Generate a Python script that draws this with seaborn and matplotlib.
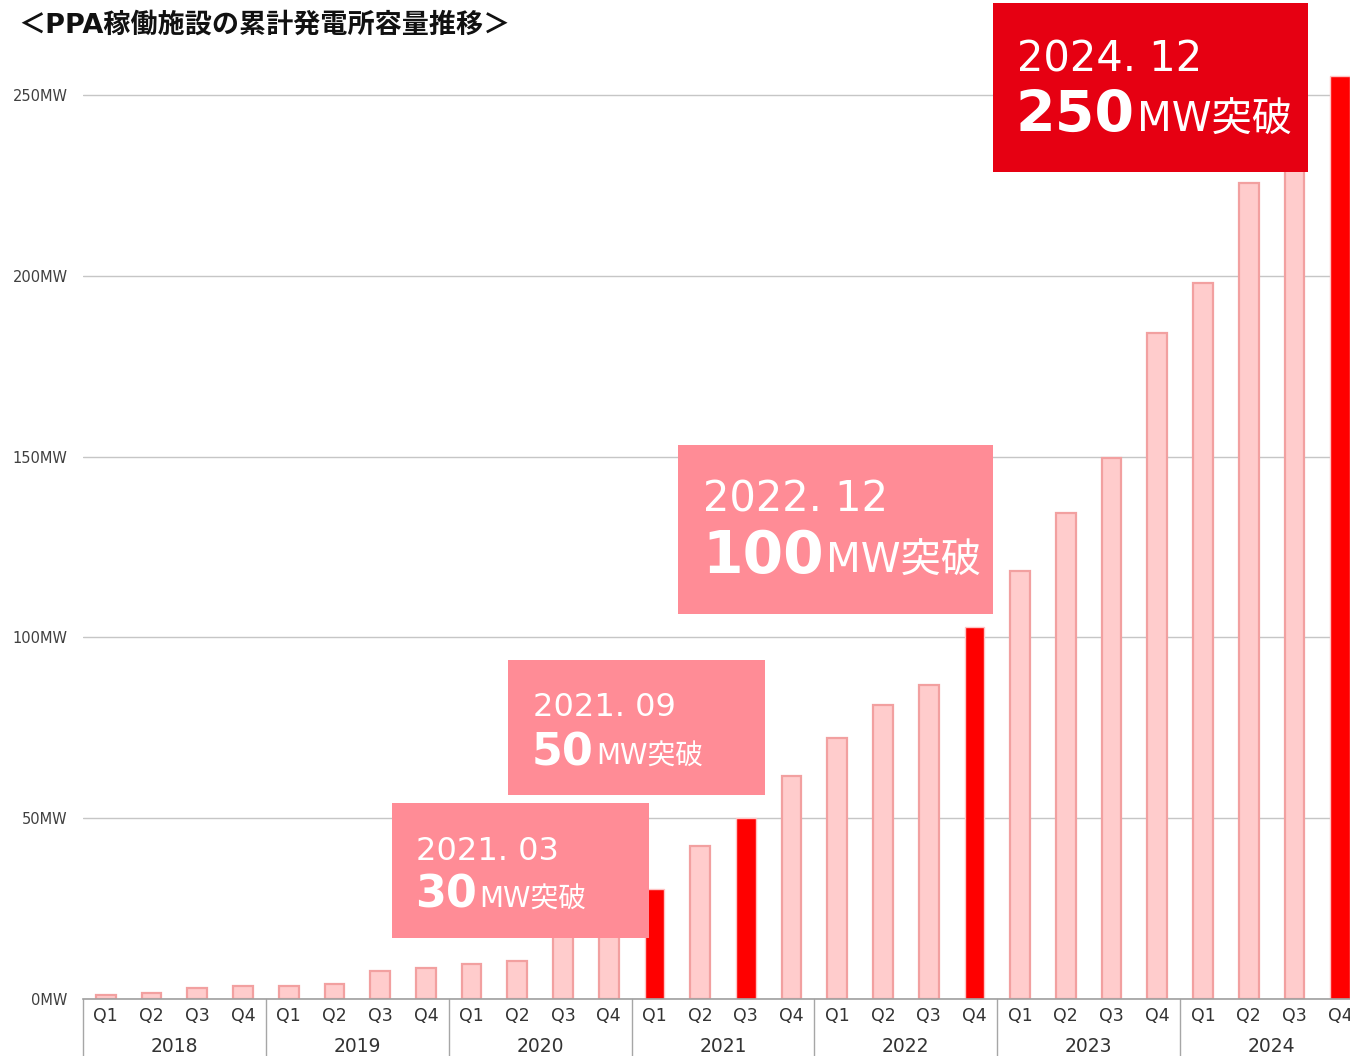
import pandas as pd
import seaborn as sns
import matplotlib.pyplot as plt
from matplotlib.patches import Rectangle

# Données (MW cumulés par trimestre)
years = ['2018', '2019', '2020', '2021', '2022', '2023', '2024']
quarters = ['Q1', 'Q2', 'Q3', 'Q4']
capacity = [1.1, 1.7, 3.0, 3.6,
            3.6, 4.1, 7.7, 8.6,
            9.7, 10.5, 20.0, 25.0,
            30.4, 42.3, 50.1, 61.7,
            72.2, 81.3, 86.8, 102.9,
            118.4, 134.4, 149.6, 184.2,
            198.0, 225.7, 236.0, 255.3]
milestones = ['2021Q1', '2021Q3', '2022Q4', '2024Q4']
yticks = [0, 50, 100, 150, 200, 250]

# Encadrés des jalons
box_dates = ['2021. 03', '2021. 09', '2022. 12', '2024. 12']
box_values = ['30', '50', '100', '250']
box_unit = 'MW突破'

title = '＜PPA稼働施設の累計発電所容量推移＞'

periods = [y + q for y in years for q in quarters]
df = pd.DataFrame({'period': periods, 'value': capacity})
colors = ['#FF0000' if p in milestones else '#FFCCCC' for p in periods]

sns.set_style('white')
plt.rcParams['font.family'] = ['DejaVu Sans', 'Noto Sans CJK JP']

W, H = 1350, 1056
fig = plt.figure(figsize=(W / 100, H / 100), dpi=100)
ax = fig.add_axes([83 / W, 57 / H, 1280 / W, 940.2 / H])

sns.barplot(data=df, x='period', y='value', hue='period', palette=colors,
            saturation=1, width=0.43, legend=False, ax=ax, zorder=2)
for p, c in zip(ax.patches, colors):
    if c == '#FF0000':
        p.set_edgecolor('#FFC4C4')
        p.set_linewidth(1.0)
    else:
        p.set_edgecolor('#F2A0A0')
        p.set_linewidth(1.6)

ax.set_xlim(-0.5, 27.5)
ax.set_ylim(0, 260)
ax.set_yticks(yticks)
ax.set_yticklabels([f'{v}MW' for v in yticks], fontsize=10.5, color='#404040')
ax.set_xticks(range(len(periods)))
ax.set_xticklabels(quarters * len(years), fontsize=12.5, color='#333333')
ax.tick_params(axis='y', length=0, pad=11)
ax.tick_params(axis='x', length=0, pad=6)
ax.set_xlabel('')
ax.set_ylabel('')
ax.yaxis.grid(True, color='#C6C6C6', linewidth=1)
ax.set_axisbelow(True)
for s in ['left', 'top', 'right']:
    ax.spines[s].set_visible(False)
ax.spines['bottom'].set_color('#A0A0A0')
ax.spines['bottom'].set_linewidth(1.2)

# Années et séparateurs
trans = ax.get_xaxis_transform()
for k, y in enumerate(years):
    ax.text(4 * k + 1.5, -0.05, y, transform=trans, ha='center', va='center',
            fontsize=13.5, color='#333333')
for k in range(len(years) + 1):
    x = 4 * k - 0.5
    ax.plot([x, x], [0, -0.07], transform=trans, clip_on=False,
            color='#A6A6A6', linewidth=1)

fig.text(18 / W, 1 - 26 / H, title, va='center', ha='left', fontsize=19.5,
         fontweight='bold', color='#111111')

# Encadrés (x0, y0, x1, y1, x texte, ligne 1, ligne 2, tailles, couleur)
layout = [
    (392, 803, 649, 938, 419, 860, 908, 23, 32, 20, '#FF8C96'),
    (508, 660, 765, 795, 536, 716, 765, 23, 32, 20, '#FF8C96'),
    (678, 445, 993, 614, 706, 511, 573, 30, 42, 29, '#FF8C96'),
    (993, 3, 1308, 172, 1020, 72, 132, 30, 41, 29, '#E60012'),
]
big_texts = []
for (x0, y0, x1, y1, tx, b1, b2, f1, f2, f3, col), d, v in zip(layout, box_dates, box_values):
    fig.add_artist(Rectangle((x0 / W, 1 - y1 / H), (x1 - x0) / W, (y1 - y0) / H,
                             transform=fig.transFigure, facecolor=col,
                             edgecolor='none', zorder=5))
    fig.text((tx - 3) / W, 1 - b1 / H, d, fontsize=f1, color='white',
             va='baseline', ha='left', zorder=6)
    t = fig.text((tx - 4) / W, 1 - b2 / H, v, fontsize=f2, color='white',
                 va='baseline', ha='left', fontweight='bold', zorder=6)
    big_texts.append((t, b2, f3))

fig.canvas.draw()
r = fig.canvas.get_renderer()
for t, b2, f3 in big_texts:
    bb = t.get_window_extent(renderer=r)
    fig.text((bb.x1 + 2) / W, 1 - b2 / H, box_unit, fontsize=f3, color='white',
             va='baseline', ha='left', zorder=6)

fig.savefig('out.png', dpi=100)
